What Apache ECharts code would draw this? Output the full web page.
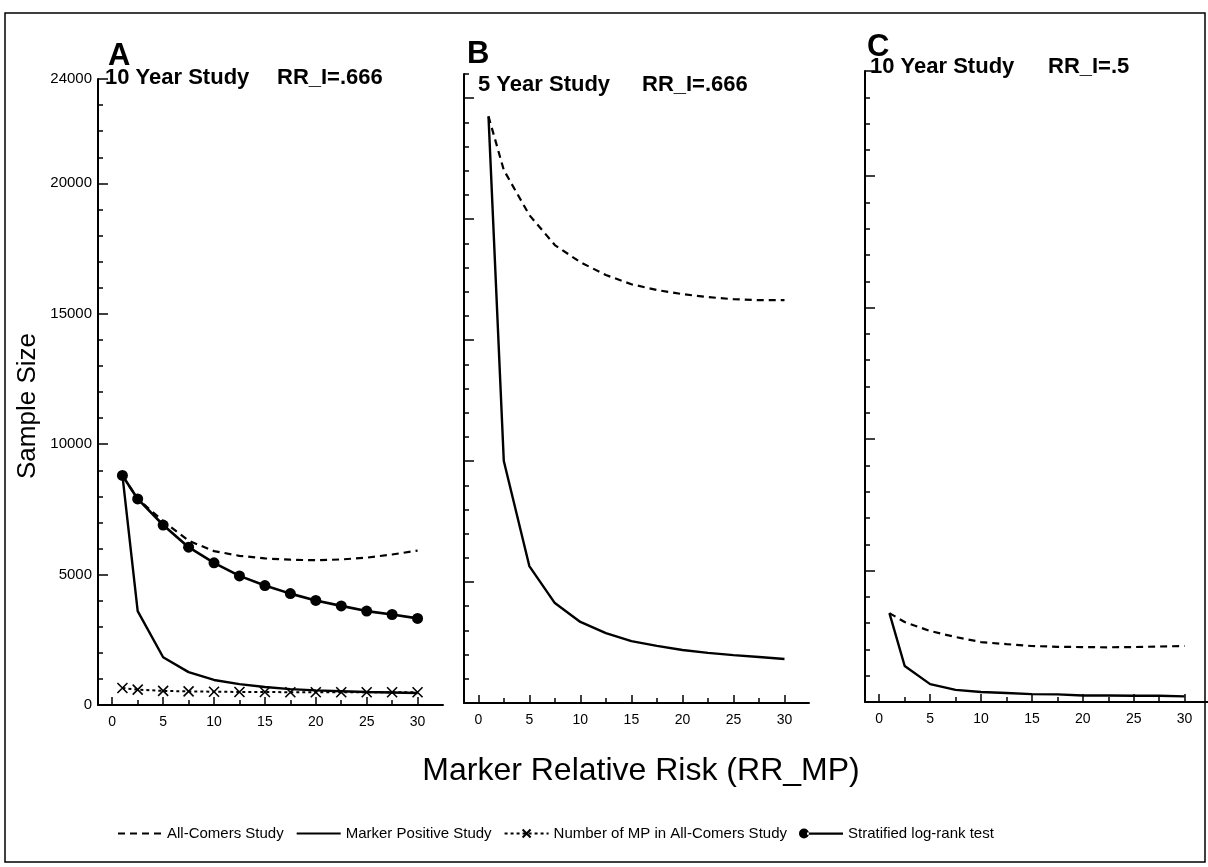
<!DOCTYPE html>
<html>
<head>
<meta charset="utf-8">
<title>Sample size vs marker relative risk</title>
<script src="https://cdn.jsdelivr.net/npm/echarts@6/dist/echarts.min.js"></script>
<style>
  html, body { margin: 0; padding: 0; background: #fff; }
  #chart { width: 1208px; height: 867px; }
</style>
</head>
<body>
<div id="chart"></div>
<script>
// marker relative risk (RR_MP), same x values in every panel
const rrMP = [1, 2.5, 5, 7.5, 10, 12.5, 15, 17.5, 20, 22.5, 25, 27.5, 30]

// panel A: 10 year study, RR_I=.666
const allComersA = [8800, 7900, 7050, 6300, 5900, 5720, 5620, 5570, 5550, 5580, 5650, 5770, 5920]
const markerPosA = [8800, 3600, 1830, 1260, 960, 800, 690, 610, 560, 530, 500, 480, 460]
const mpInAllA = [650, 590, 540, 520, 510, 500, 500, 490, 490, 490, 490, 490, 490]
const stratifiedA = [8800, 7900, 6900, 6050, 5450, 4950, 4580, 4270, 4010, 3800, 3600, 3470, 3320]

// panel B: 5 year study, RR_I=.666
const allComersB = [24250, 22030, 20170, 18930, 18220, 17690, 17310, 17070, 16900, 16780, 16690, 16650, 16650]
const markerPosB = [24250, 10000, 5660, 4130, 3350, 2890, 2560, 2360, 2190, 2070, 1980, 1900, 1820]

// panel C: 10 year study, RR_I=.5
const allComersC = [3380, 3040, 2700, 2470, 2280, 2200, 2130, 2100, 2090, 2080, 2090, 2110, 2130]
const markerPosC = [3380, 1370, 680, 460, 380, 340, 300, 290, 250, 245, 240, 235, 215]

// tick labels
const xLabels = [0, 5, 10, 15, 20, 25, 30]
const yLabelsA = [0, 5000, 10000, 15000, 20000, 24000]

const seriesNames = ['All-Comers Study', 'Marker Positive Study', 'Number of MP in All-Comers Study', 'Stratified log-rank test']

const FONT = '"Liberation Sans", Arial, Helvetica, sans-serif'
const NARROW = '"Liberation Sans Narrow", "Liberation Sans", Arial, sans-serif'

// grid placement of the three panels (pixels)
const panels = [
  { left: 98, right: 765, top: 79, bottom: 162, xMin: -1.4, xMax: 32.5, yMax: 24000, yMajor: [0, 5000, 10000, 15000, 20000, 24000], labels: true },
  { left: 464, right: 399, top: 74, bottom: 164, xMin: -1.4, xMax: 32.4, yMax: 26000, yMajor: [0, 5000, 10000, 15000, 20000, 25000], labels: false },
  { left: 865, right: 0, top: 71, bottom: 165, xMin: -1.4, xMax: 32.3, yMax: 24000, yMajor: [0, 5000, 10000, 15000, 20000, 24000], labels: false }
]

function steps (from, to, step) {
  const out = []
  for (let v = from; v <= to + 1e-9; v += step) out.push(v)
  return out
}

const xMinor = steps(0, 30, 2.5)

const grid = []
const xAxis = []
const yAxis = []
panels.forEach((p, gi) => {
  grid.push({ left: p.left, right: p.right, top: p.top, bottom: p.bottom })
  // main x axis: line, long ticks, labels
  xAxis.push({
    gridIndex: gi, type: 'value', position: 'bottom', min: p.xMin, max: p.xMax,
    axisLine: { onZero: false, lineStyle: { color: '#000', width: 2 } },
    axisTick: { inside: true, length: 8, customValues: xLabels, lineStyle: { color: '#000', width: 1.5 } },
    axisLabel: { customValues: xLabels, color: '#000', fontSize: 14, fontFamily: FONT, margin: 10 },
    splitLine: { show: false }
  })
  // short ticks every 2.5
  xAxis.push({
    gridIndex: gi, type: 'value', position: 'bottom', min: p.xMin, max: p.xMax,
    axisLine: { show: false, onZero: false },
    axisTick: { inside: true, length: 5, customValues: xMinor, lineStyle: { color: '#000', width: 1.5 } },
    axisLabel: { show: false },
    splitLine: { show: false }
  })
  yAxis.push({
    gridIndex: gi, type: 'value', position: 'left', min: 0, max: p.yMax,
    axisLine: { show: true, onZero: false, lineStyle: { color: '#000', width: 2 } },
    axisTick: { show: true, inside: true, length: 10, customValues: p.yMajor, lineStyle: { color: '#000', width: 1.5 } },
    axisLabel: p.labels
      ? { customValues: yLabelsA, formatter: v => String(v), color: '#000', fontSize: 15, fontFamily: FONT, margin: 6 }
      : { show: false },
    splitLine: { show: false }
  })
  yAxis.push({
    gridIndex: gi, type: 'value', position: 'left', min: 0, max: p.yMax,
    axisLine: { show: false, onZero: false },
    axisTick: { show: true, inside: true, length: 5, customValues: steps(1000, p.yMax, 1000), lineStyle: { color: '#000', width: 1.5 } },
    axisLabel: { show: false },
    splitLine: { show: false }
  })
})

function pairs (values) {
  return rrMP.map((x, i) => [x, values[i]])
}

function dashedLine (gi, values) {
  return {
    name: seriesNames[0], type: 'line', xAxisIndex: gi * 2, yAxisIndex: gi * 2,
    data: pairs(values), showSymbol: false, symbol: 'none',
    lineStyle: { color: '#000', width: 2.2, type: [7, 5] },
    itemStyle: { color: '#000' }
  }
}

function solidLine (gi, values) {
  return {
    name: seriesNames[1], type: 'line', xAxisIndex: gi * 2, yAxisIndex: gi * 2,
    data: pairs(values), showSymbol: false, symbol: 'none',
    lineStyle: { color: '#000', width: 2.4 },
    itemStyle: { color: '#000' }
  }
}

const series = [
  dashedLine(0, allComersA),
  solidLine(0, markerPosA),
  {
    name: seriesNames[2], type: 'line', xAxisIndex: 0, yAxisIndex: 0,
    data: pairs(mpInAllA),
    symbol: 'path://M0,0L10,10M0,10L10,0', symbolSize: 10,
    lineStyle: { color: '#000', width: 2, type: [3, 3] },
    itemStyle: { color: '#000', borderColor: '#000', borderWidth: 1.6 }
  },
  {
    name: seriesNames[3], type: 'line', xAxisIndex: 0, yAxisIndex: 0,
    data: pairs(stratifiedA),
    symbol: 'circle', symbolSize: 11,
    lineStyle: { color: '#000', width: 2.6 },
    itemStyle: { color: '#000' }
  },
  dashedLine(1, allComersB),
  solidLine(1, markerPosB),
  dashedLine(2, allComersC),
  solidLine(2, markerPosC)
]

function label (text, x, y, size, bold) {
  return {
    type: 'text', x: x, y: y, silent: true,
    style: {
      text: text, fill: '#000',
      font: (bold ? 'bold ' : '') + size + 'px ' + FONT,
      textAlign: 'left', textVerticalAlign: 'middle'
    }
  }
}

const graphic = [
  { type: 'rect', silent: true, shape: { x: 5, y: 13, width: 1200, height: 849 }, style: { fill: 'none', stroke: '#000', lineWidth: 1.5 } },
  label('A', 108, 56, 31, true),
  label('B', 467, 54, 31, true),
  label('C', 867, 47, 31, true),
  label('10 Year Study', 105, 78, 22, true),
  label('RR_I=.666', 277, 78, 22, true),
  label('5 Year Study', 478, 85, 22, true),
  label('RR_I=.666', 642, 85, 22, true),
  label('10 Year Study', 870, 67, 22, true),
  label('RR_I=.5', 1048, 67, 22, true),
  {
    type: 'text', x: 28, y: 406, rotation: Math.PI / 2, silent: true,
    style: { text: 'Sample Size', fill: '#000', font: '26px ' + FONT, textAlign: 'center', textVerticalAlign: 'middle' }
  },
  {
    type: 'text', x: 641, y: 771, silent: true,
    style: { text: 'Marker Relative Risk (RR_MP)', fill: '#000', font: '32px ' + FONT, textAlign: 'center', textVerticalAlign: 'middle' }
  }
]

const chart = echarts.init(document.getElementById('chart'), null, { renderer: 'canvas' })
chart.setOption({
  animation: false,
  backgroundColor: '#fff',
  grid,
  xAxis,
  yAxis,
  legend: {
    data: [
      { name: seriesNames[0], itemStyle: { opacity: 0 } },
      { name: seriesNames[1], itemStyle: { opacity: 0 } },
      { name: seriesNames[2] },
      // dot on the left end of the line, as in the printed key
      { name: seriesNames[3], icon: 'path://M0,5A5,5,0,1,0,10,5A5,5,0,1,0,0,5ZM8,4L44,4L44,6.2L8,6.2Z' }
    ],
    left: 112,
    top: 821,
    itemWidth: 44,
    itemHeight: 10,
    itemGap: 12,
    selectedMode: false,
    textStyle: { color: '#000', fontSize: 15, fontFamily: NARROW }
  },
  graphic,
  series
})
</script>
</body>
</html>
